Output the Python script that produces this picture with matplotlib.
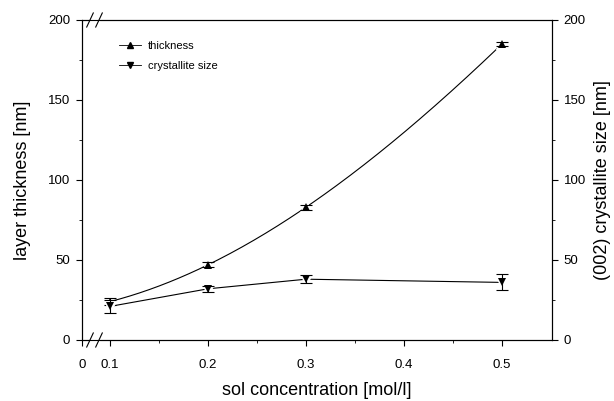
import numpy as np
import matplotlib
matplotlib.use("Agg")
import matplotlib.pyplot as plt
from matplotlib.lines import Line2D
from matplotlib.ticker import MultipleLocator, FixedLocator

plt.rcParams['font.family'] = ['Liberation Sans', 'DejaVu Sans']

# ---- data ----
conc = [0.1, 0.2, 0.3, 0.5]
thickness = [24, 47, 83, 185]
thickness_err = [2, 1.5, 1.5, 1.5]
cryst = [21, 32, 38, 36]
cryst_err = [4, 2, 2.5, 5]
xtick_vals = [0.1, 0.2, 0.3, 0.4, 0.5]
xtick_labels = ['0.1', '0.2', '0.3', '0.4', '0.5']
ytick_vals = [0, 50, 100, 150, 200]

fig = plt.figure(figsize=(6.14, 4.01), dpi=100)
ax = fig.add_axes([82/614, 1-340/401, 470/614, 320/401])
ax2 = ax.twinx()

x_left = 0.1 - 28/98*0.1
x_right = 0.5 + 50/98*0.1
for a in (ax, ax2):
    a.set_xlim(x_left, x_right)
    a.set_ylim(0, 200)

# thickness: smooth curve through points
cx = np.array(conc); cy = np.array(thickness)
coef = np.polyfit(cx, cy, 3)
xs = np.linspace(cx[0], cx[-1], 200)
ax.plot(xs, np.polyval(coef, xs), color='black', lw=0.8, zorder=2)
ax.plot(conc, thickness, ls='none', marker='^', ms=6, mfc='black', mec='white', mew=2.5, zorder=3)
ax.errorbar(conc, thickness, yerr=thickness_err, fmt='none', ecolor='black', elinewidth=0.8, capsize=4, capthick=0.8, zorder=4)
ax.plot(conc, thickness, ls='none', marker='^', ms=6, color='black', mew=0, zorder=5)

# crystallite size on right axis
ax2.plot(conc, cryst, color='black', lw=0.8, zorder=2)
ax2.plot(conc, cryst, ls='none', marker='v', ms=6, mfc='black', mec='white', mew=2.5, zorder=3)
ax2.errorbar(conc, cryst, yerr=cryst_err, fmt='none', ecolor='black', elinewidth=0.8, capsize=4, capthick=0.8, zorder=4)
ax2.plot(conc, cryst, ls='none', marker='v', ms=6, color='black', mew=0, zorder=5)

# ticks
ax.xaxis.set_major_locator(FixedLocator([x_left] + xtick_vals))
ax.set_xticklabels(['0'] + xtick_labels)
ax.xaxis.set_minor_locator(FixedLocator([0.15, 0.25, 0.35, 0.45]))
ax.yaxis.set_major_locator(FixedLocator(ytick_vals))
ax.yaxis.set_minor_locator(MultipleLocator(25))
ax2.yaxis.set_major_locator(FixedLocator(ytick_vals))
ax2.yaxis.set_minor_locator(MultipleLocator(25))
for a in (ax, ax2):
    a.tick_params(which='major', direction='out', length=4.5, width=0.8, labelsize=9.5, color='black', pad=4)
    a.tick_params(which='minor', direction='out', length=2.5, width=0.6)
ax.tick_params(axis='x', pad=9)
ax.tick_params(top=False, which='both')
for a in (ax, ax2):
    for s in a.spines.values():
        s.set_linewidth(0.8)

ax.set_xlabel('sol concentration [mol/l]', fontsize=13, labelpad=8)
ax.set_ylabel('layer thickness [nm]', fontsize=13, labelpad=12)
ax2.set_ylabel('(002) crystallite size [nm]', fontsize=13, labelpad=6)

# axis break marks
b1, b2 = (90-82)/470, (99-82)/470
for yb in (0, 1):
    ax.plot([b1+0.003, b2-0.003], [yb, yb], transform=ax.transAxes, color='white', lw=2.5, clip_on=False, zorder=10)
    for xb in (b1, b2):
        ax.plot([xb-0.007, xb+0.007], [yb-0.022, yb+0.022], transform=ax.transAxes,
                color='black', lw=0.8, clip_on=False, zorder=11)

# legend
h1 = Line2D([], [], color='black', lw=0.6, marker='^', ms=5)
h2 = Line2D([], [], color='black', lw=0.6, marker='v', ms=5)
ax.legend([h1, h2], ['thickness', 'crystallite size'], loc='upper left',
          bbox_to_anchor=(0.079, 0.935), frameon=False, fontsize=8,
          handlelength=2.0, handletextpad=0.6, labelspacing=0.9,
          borderpad=0, borderaxespad=0)

fig.savefig('out.png', dpi=100)
